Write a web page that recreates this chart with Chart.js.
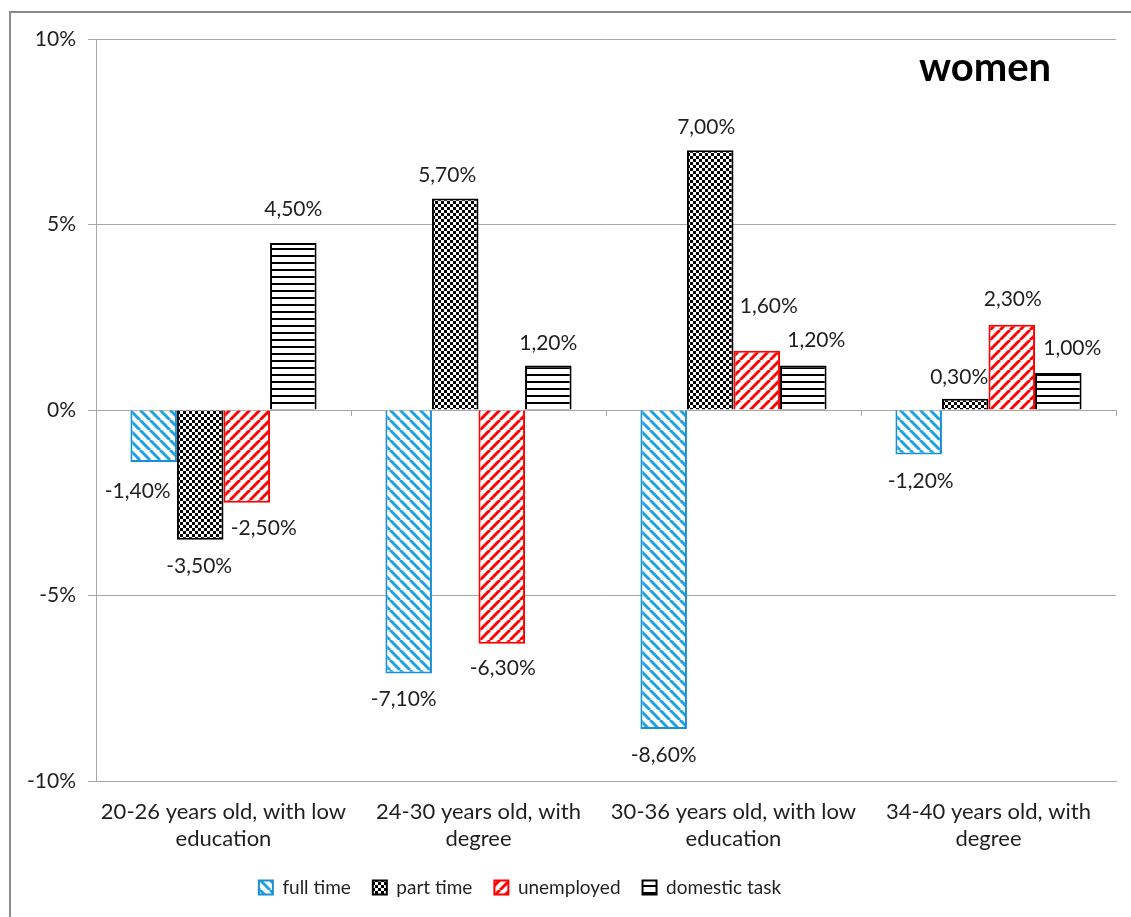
<!DOCTYPE html>
<html>
<head>
<meta charset="utf-8">
<script src="https://cdn.jsdelivr.net/npm/chart.js@4.4.1/dist/chart.umd.min.js"></script>
<style>
  html, body { margin: 0; padding: 0; background: #fff; }
  #wrap { width: 1131px; height: 917px; }
</style>
</head>
<body>
<div id="wrap"><canvas id="chart" width="1131" height="917"></canvas></div>
<script>
// data
const categories = [
  ['20-26 years old, with low', 'education'],
  ['24-30 years old, with', 'degree'],
  ['30-36 years old, with low', 'education'],
  ['34-40 years old, with', 'degree']
];
const fullTime = [-1.4, -7.1, -8.6, -1.2];
const partTime = [-3.5, 5.7, 7.0, 0.3];
const unemployed = [-2.5, -6.3, 1.6, 2.3];
const domesticTask = [4.5, 1.2, 1.2, 1.0];
const yTicks = [-10, -5, 0, 5, 10];

const FONT = 'Lato, "Open Sans", sans-serif';
const TEXT = '#1f1f1f';
const GRID = '#a6a6a6';

// hatch fills like the excel pattern fills
function makePattern(kind, color) {
  const c = document.createElement('canvas');
  const ctx = c.getContext('2d');
  if (kind === 'back' || kind === 'fwd') {
    const s = 10;
    c.width = s; c.height = s;
    ctx.fillStyle = '#fff';
    ctx.fillRect(0, 0, s, s);
    ctx.strokeStyle = color;
    ctx.lineWidth = 3;
    for (let k = -1; k <= 1; k++) {
      ctx.beginPath();
      if (kind === 'back') {
        ctx.moveTo(k * s, 0); ctx.lineTo(k * s + s, s);
      } else {
        ctx.moveTo(k * s + s, 0); ctx.lineTo(k * s, s);
      }
      ctx.stroke();
    }
  } else if (kind === 'checker') {
    c.width = 6; c.height = 6;
    ctx.fillStyle = '#fff';
    ctx.fillRect(0, 0, 6, 6);
    ctx.fillStyle = color;
    ctx.fillRect(0, 0, 3, 3);
    ctx.fillRect(3, 3, 3, 3);
  } else {
    c.width = 4; c.height = 7;
    ctx.fillStyle = '#fff';
    ctx.fillRect(0, 0, 4, 7);
    ctx.fillStyle = color;
    ctx.fillRect(0, 3, 4, 2);
  }
  const probe = document.createElement('canvas').getContext('2d');
  return probe.createPattern(c, 'repeat');
}

const pct = v => v.toFixed(2).replace('.', ',') + '%';

// hand-moved labels, like in the original sheet [dx, dy]
const nudges = [
  [[-16, 5], [-5, 2], [0, 2], [2, 3]],
  [[-1, 2], [-8, 1], [-4, 1], [-6, 2]],
  [[17, 1], [1, 1], [12, -20], [1, -1]],
  [[0, -10], [0, 2], [13, -1], [14, -1]]
];

const extras = {
  id: 'extras',
  beforeDraw(chart) {
    const ctx = chart.ctx;
    ctx.save();
    ctx.fillStyle = '#fff';
    ctx.fillRect(0, 0, chart.width, chart.height);
    ctx.strokeStyle = '#8c8c8c';
    ctx.lineWidth = 2;
    ctx.strokeRect(10, 12, chart.width + 20, chart.height + 20);
    ctx.restore();
  },
  afterLayout(chart) {
    // legend sits a bit left of centre in the original
    chart.legend.left -= 38;
    chart.legend.right -= 38;
  },
  afterDatasetsDraw(chart) {
    const ctx = chart.ctx;
    const x = chart.scales.x, y = chart.scales.y;
    const y0 = y.getPixelForValue(0);
    ctx.save();
    // little ticks on the category axis at zero
    ctx.strokeStyle = GRID;
    ctx.lineWidth = 1;
    for (let i = 0; i <= categories.length; i++) {
      const px = Math.round(x.left + i * (x.right - x.left) / categories.length) + 0.5;
      ctx.beginPath();
      ctx.moveTo(px, y0);
      ctx.lineTo(px, y0 + 6);
      ctx.stroke();
    }
    // value labels
    ctx.font = '21px ' + FONT;
    ctx.fillStyle = TEXT;
    ctx.textAlign = 'center';
    ctx.textBaseline = 'middle';
    chart.data.datasets.forEach((ds, di) => {
      chart.getDatasetMeta(di).data.forEach((bar, i) => {
        const v = ds.data[i];
        const n = nudges[di][i];
        const ty = v >= 0 ? bar.y - 24 : bar.y + 24;
        ctx.fillText(pct(v), bar.x + n[0], ty + n[1]);
      });
    });
    // title inside the plot
    ctx.font = 'bold 40px ' + FONT;
    ctx.fillStyle = '#000';
    ctx.fillText('women', 985, 68);
    ctx.restore();
  }
};

new Chart(document.getElementById('chart'), {
  type: 'bar',
  data: {
    labels: categories,
    datasets: [
      { label: 'full time', data: fullTime,
        backgroundColor: makePattern('back', '#1aa3e3'), borderColor: '#1a8fd6', borderWidth: 2 },
      { label: 'part time', data: partTime,
        backgroundColor: makePattern('checker', '#000'), borderColor: '#000', borderWidth: 2 },
      { label: 'unemployed', data: unemployed,
        backgroundColor: makePattern('fwd', '#ff0000'), borderColor: '#ff0000', borderWidth: 2 },
      { label: 'domestic task', data: domesticTask,
        backgroundColor: makePattern('hlines', '#000'), borderColor: '#000', borderWidth: 2 }
    ]
  },
  options: {
    responsive: false,
    animation: false,
    devicePixelRatio: 1,
    layout: { padding: { top: 39, right: 15, left: 0, bottom: 10 } },
    datasets: { bar: { categoryPercentage: 0.73, barPercentage: 1.0 } },
    plugins: {
      legend: {
        position: 'bottom',
        labels: {
          boxWidth: 14, boxHeight: 14, padding: 22,
          color: TEXT, font: { family: FONT, size: 19 }
        },
        // tighter spacing between entries, closer to the original
        onHover: null
      },
      tooltip: { enabled: false }
    },
    scales: {
      x: {
        grid: { display: false },
        border: { color: GRID },
        ticks: { color: TEXT, font: { family: FONT, size: 22 }, padding: 10, maxRotation: 0, autoSkip: false },
        afterFit(s) { s.height = 75; }
      },
      y: {
        min: -10, max: 10,
        afterBuildTicks(s) { s.ticks = yTicks.map(v => ({ value: v })); },
        grid: { color: GRID, tickLength: 8 },
        border: { color: GRID },
        ticks: { color: TEXT, font: { family: FONT, size: 21 }, padding: 12, callback: v => v + '%' },
        afterFit(s) { s.width = 96; }
      }
    }
  },
  plugins: [extras]
});
</script>
</body>
</html>
